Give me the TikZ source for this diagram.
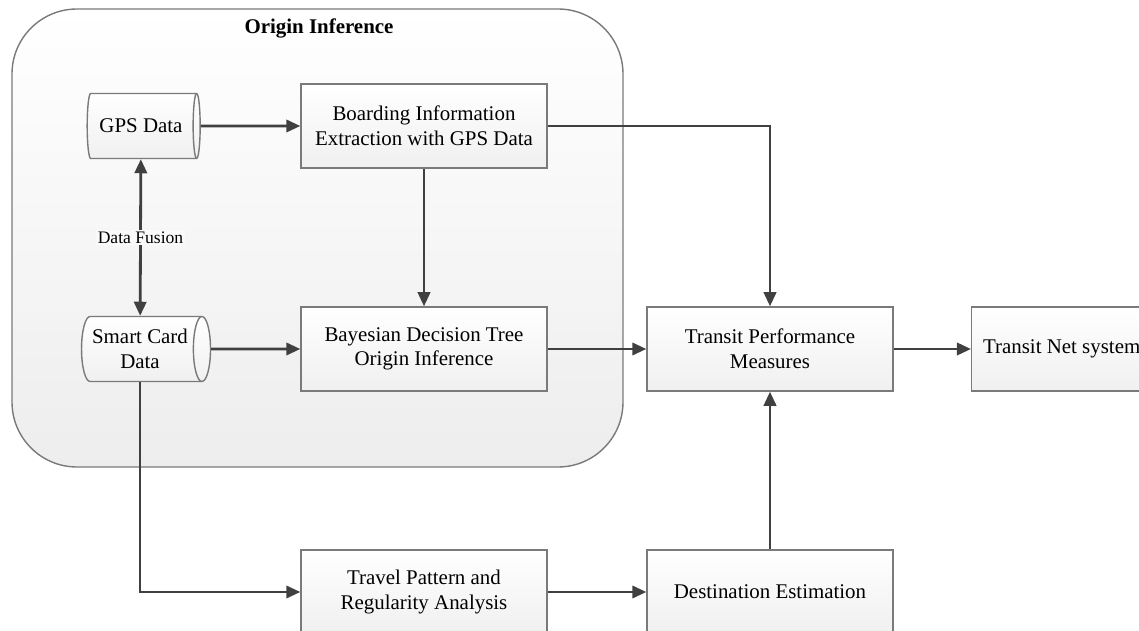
\documentclass[tikz,border=0pt]{standalone}
\usepackage{fontspec}
\setmainfont{Liberation Serif}
\usepackage{xcolor}
\usetikzlibrary{arrows.meta,shapes.geometric,positioning}

\definecolor{linegray}{HTML}{404040}
\definecolor{edgegray}{HTML}{7A7A7A}

\begin{document}
\begin{tikzpicture}[x=0.02cm,y=-0.02cm,
		every node/.style={font=\fontsize{11.9}{14}\selectfont},
		procbox/.style={draw=edgegray, line width=0.8pt, top color=white, bottom color=gray!12, align=center, minimum width=4.92cm, minimum height=1.68cm, inner sep=2pt},
		database/.style={cylinder, draw=edgegray, line width=0.8pt, top color=white, bottom color=gray!12, align=center, shape aspect=0.4, minimum width=1.3cm, inner sep=1pt},
		arr/.style={draw=linegray, line width=1.6pt, -{Triangle[length=8pt,width=7pt]}}]
		\useasboundingbox (0,0) rectangle (1139,631);
		% origin inference container
		\draw[edgegray, line width=0.8pt, top color=white, bottom color=gray!14, rounded corners=1.3cm] (12,9) rectangle (623,467);
		\node[font=\bfseries\fontsize{11.9}{14}\selectfont] (title) at (319,28) {Origin Inference};
		% nodes
		\node[database, minimum height=2.26cm] (gps) at (141,126) {GPS Data};
		\node[database, minimum height=2.58cm] (card) at (140,349) {Smart Card\\Data};
		\node[procbox] (board) at (424,126) {Boarding Information\\Extraction with GPS Data};
		\node[procbox] (bayes) at (424,349) {Bayesian Decision Tree\\Origin Inference};
		\node[procbox] (perf) at (770,349) {Transit Performance\\Measures};
		\node[procbox, minimum width=3.6cm, anchor=west] (net) at (971,349) {Transit Net system};
		\node[procbox] (travel) at (424,592) {Travel Pattern and\\Regularity Analysis};
		\node[procbox] (dest) at (770,592) {Destination Estimation};
		% connectors
		\draw[arr, {Triangle[length=8pt,width=7pt]}-{Triangle[length=8pt,width=7pt]}] (gps) -- node[fill=gray!4, inner sep=1pt, font=\fontsize{10}{12}\selectfont] (fusion) {Data Fusion} (card);
		\draw[arr] (gps) -- (board);
		\draw[arr] (card) -- (bayes);
		\draw[arr] (board) -- (bayes);
		\draw[arr] (bayes) -- (perf);
		\draw[arr] (perf) -- (net);
		\draw[arr] (board.east) -| (perf.north);
		\draw[arr] (card.south) |- (travel.west);
		\draw[arr] (travel) -- (dest);
		\draw[arr] (dest) -- (perf);
	\end{tikzpicture}
\end{document}
